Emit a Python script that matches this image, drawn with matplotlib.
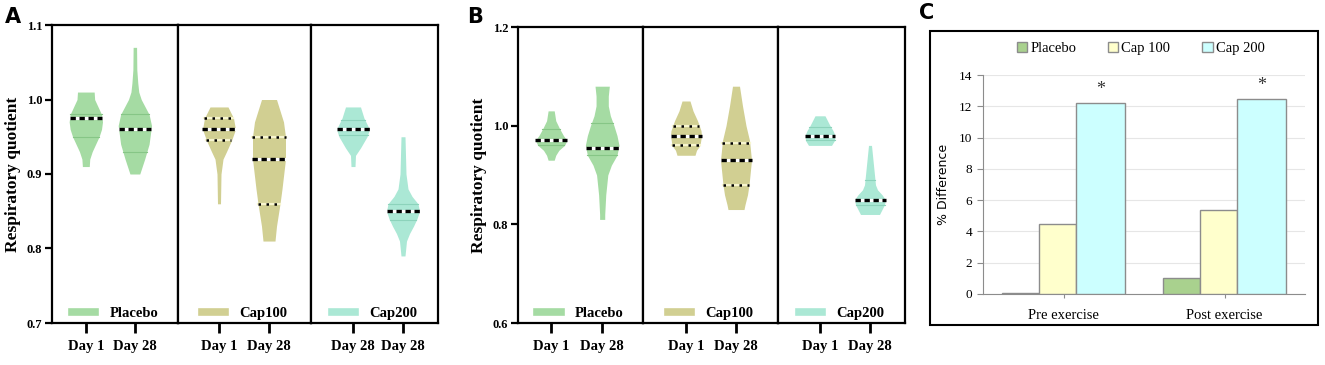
import numpy as np
import matplotlib.pyplot as plt
from matplotlib.lines import Line2D
from matplotlib.patches import Patch, Rectangle

# === Violin outlines: value levels (ascending) and half widths ===
# Panel A
a_pl1_y = [0.91, 0.92, 0.93, 0.94, 0.95, 0.96, 0.97, 0.98, 0.99, 1.00, 1.01]
a_pl1_w = [0.07, 0.08, 0.13, 0.20, 0.27, 0.32, 0.34, 0.32, 0.25, 0.18, 0.17]
a_pl28_y = [0.90, 0.92, 0.94, 0.965, 0.98, 1.00, 1.01, 1.022, 1.04, 1.07]
a_pl28_w = [0.10, 0.20, 0.29, 0.34, 0.29, 0.13, 0.08, 0.06, 0.04, 0.035]
a_c1_1_y = [0.86, 0.90, 0.92, 0.93, 0.945, 0.96, 0.975, 0.99]
a_c1_1_w = [0.03, 0.04, 0.08, 0.15, 0.25, 0.33, 0.29, 0.18]
a_c1_28_y = [0.81, 0.83, 0.86, 0.88, 0.92, 0.95, 0.97, 1.00]
a_c1_28_w = [0.12, 0.15, 0.22, 0.26, 0.33, 0.33, 0.29, 0.15]
a_c2_1_y = [0.91, 0.925, 0.935, 0.95, 0.96, 0.975, 0.99]
a_c2_1_w = [0.04, 0.05, 0.15, 0.28, 0.33, 0.22, 0.15]
a_c2_28_y = [0.79, 0.81, 0.82, 0.83, 0.84, 0.85, 0.86, 0.87, 0.88, 0.90, 0.95]
a_c2_28_w = [0.04, 0.07, 0.13, 0.21, 0.28, 0.33, 0.30, 0.18, 0.10, 0.06, 0.04]

# Panel B
b_pl1_y = [0.93, 0.94, 0.95, 0.96, 0.97, 0.98, 0.995, 1.01, 1.03]
b_pl1_w = [0.06, 0.09, 0.15, 0.26, 0.31, 0.24, 0.16, 0.09, 0.06]
b_pl28_y = [0.81, 0.82, 0.86, 0.90, 0.92, 0.94, 0.96, 0.98, 1.00, 1.02, 1.04, 1.06, 1.08]
b_pl28_w = [0.05, 0.05, 0.07, 0.11, 0.18, 0.29, 0.33, 0.29, 0.23, 0.16, 0.12, 0.12, 0.14]
b_c1_1_y = [0.94, 0.95, 0.96, 0.98, 0.99, 1.01, 1.03, 1.05]
b_c1_1_w = [0.18, 0.21, 0.28, 0.31, 0.30, 0.23, 0.14, 0.08]
b_c1_28_y = [0.83, 0.84, 0.86, 0.88, 0.93, 0.97, 1.00, 1.04, 1.08]
b_c1_28_w = [0.16, 0.18, 0.23, 0.26, 0.31, 0.27, 0.20, 0.13, 0.07]
b_c2_1_y = [0.96, 0.97, 0.98, 0.99, 1.00, 1.02]
b_c2_1_w = [0.23, 0.29, 0.30, 0.26, 0.20, 0.10]
b_c2_28_y = [0.82, 0.83, 0.84, 0.85, 0.86, 0.87, 0.88, 0.90, 0.92, 0.94, 0.96]
b_c2_28_w = [0.19, 0.24, 0.29, 0.31, 0.24, 0.15, 0.11, 0.09, 0.07, 0.05, 0.03]

# medians and quartiles, order: placebo d1, placebo d28, cap100 d1, cap100 d28, cap200 d1, cap200 d28
a_median = [0.975, 0.96, 0.96, 0.92, 0.96, 0.85]
a_q_low = [0.95, 0.93, 0.945, 0.86, 0.952, 0.838]
a_q_high = [0.98, 0.98, 0.975, 0.95, 0.973, 0.86]
b_median = [0.97, 0.955, 0.98, 0.93, 0.98, 0.85]
b_q_low = [0.96, 0.94, 0.96, 0.88, 0.97, 0.84]
b_q_high = [0.993, 1.005, 1.0, 0.965, 0.998, 0.89]

group_names = ["Placebo", "Cap100", "Cap200"]
a_ticklabels = [["Day 1", "Day 28"], ["Day 1", "Day 28"], ["Day 28", "Day 28"]]
b_ticklabels = [["Day 1", "Day 28"], ["Day 1", "Day 28"], ["Day 1", "Day 28"]]

# Panel C
c_categories = ["Pre exercise", "Post exercise"]
c_series = ["Placebo", "Cap 100", "Cap 200"]
c_placebo = [0.05, 1.0]
c_cap100 = [4.5, 5.4]
c_cap200 = [12.2, 12.45]

# === Styling ===
fill_colors = ["#a5dba3", "#d1cf92", "#abe8d5"]
quart_colors = ["#86c686", None, "#8cd3bb"]
serif = "Liberation Serif"
W, H = 1325, 365


def fig_rect(x0, y0, x1, y1):
    return [x0 / W, 1 - y1 / H, (x1 - x0) / W, (y1 - y0) / H]


def draw_violin(ax, pos, ys, ws, color, med, qlo, qhi, qcolor):
    ys = np.array(ys)
    ws = np.array(ws)
    ax.fill_betweenx(ys, pos - ws, pos + ws, color=color, lw=0)
    for q in (qlo, qhi):
        w = np.interp(q, ys, ws)
        if qcolor is None:
            ax.plot([pos - w, pos + w], [q, q], color="#f8f6d0", lw=1.6)
            ax.plot([pos - w, pos + w], [q, q], color="black", lw=1.8, ls=(0, (1, 2.2)))
        else:
            ax.plot([pos - w, pos + w], [q, q], color=qcolor, lw=0.8)
    w = np.interp(med, ys, ws)
    ax.plot([pos - w, pos + w], [med, med], color="white", lw=2.2)
    ax.plot([pos - w, pos + w], [med, med], color="black", lw=2.4, ls=(0, (1.6, 1.1)))


def violin_panel(fig, frames, xlims, profiles, medians, qlo, qhi, ticklabels, ylim, yticks, top):
    axes = []
    for g in range(3):
        ax = fig.add_axes(fig_rect(frames[g], top, frames[g + 1], 323))
        for k in range(2):
            i = 2 * g + k
            ys, ws = profiles[i]
            draw_violin(ax, k, ys, ws, fill_colors[g], medians[i], qlo[i], qhi[i], quart_colors[g])
        ax.set_xlim(*xlims[g])
        ax.set_ylim(*ylim)
        ax.set_xticks([0, 1])
        ax.set_xticklabels(ticklabels[g], fontfamily=serif, fontweight="bold", fontsize=10.5)
        ax.tick_params(axis="x", length=7, width=2, pad=5)
        for s in ax.spines.values():
            s.set_linewidth(1.6)
        if g == 0:
            ax.set_yticks(yticks)
            ax.set_yticklabels([f"{v:.1f}" for v in yticks], fontfamily=serif,
                               fontweight="bold", fontsize=9)
            ax.tick_params(axis="y", length=5, width=1.6, pad=2)
            ax.set_ylabel("Respiratory quotient", fontfamily=serif, fontweight="bold",
                          fontsize=12.5, labelpad=4)
        else:
            ax.set_yticks([])
        handle = Line2D([], [], color=fill_colors[g], lw=5.5)
        ax.legend([handle], [group_names[g]], loc="lower center",
                  bbox_to_anchor=(0.5, -0.035), frameon=False, handlelength=1.6,
                  handletextpad=1.0,
                  prop={"family": serif, "weight": "bold", "size": 10.5})
        axes.append(ax)
    return axes


fig = plt.figure(figsize=(W / 100, H / 100), dpi=100)

# === Panel A ===
a_profiles = [(a_pl1_y, a_pl1_w), (a_pl28_y, a_pl28_w), (a_c1_1_y, a_c1_1_w),
              (a_c1_28_y, a_c1_28_w), (a_c2_1_y, a_c2_1_w), (a_c2_28_y, a_c2_28_w)]
violin_panel(fig, [52, 178, 311, 438], [(-0.69, 1.88), (-0.82, 1.84), (-0.84, 1.7)],
             a_profiles, a_median, a_q_low, a_q_high, a_ticklabels,
             (0.7, 1.1), [0.7, 0.8, 0.9, 1.0, 1.1], 25)

# === Panel B ===
b_profiles = [(b_pl1_y, b_pl1_w), (b_pl28_y, b_pl28_w), (b_c1_1_y, b_c1_1_w),
              (b_c1_28_y, b_c1_28_w), (b_c2_1_y, b_c2_1_w), (b_c2_28_y, b_c2_28_w)]
violin_panel(fig, [518, 643, 778, 905], [(-0.65, 1.8), (-0.86, 1.84), (-0.84, 1.7)],
             b_profiles, b_median, b_q_low, b_q_high, b_ticklabels,
             (0.6, 1.2), [0.6, 0.8, 1.0, 1.2], 27)

# === Panel C ===
axc = fig.add_axes(fig_rect(983, 75, 1305, 294))
x = np.arange(len(c_categories))
bar_colors = ["#a9d18e", "#ffffcc", "#ccffff"]
widths = [0.228, 0.228, 0.304]
start = -0.38
for j, vals in enumerate([c_placebo, c_cap100, c_cap200]):
    offset = start + sum(widths[:j])
    axc.bar(x + offset, vals, width=widths[j], align="edge", color=bar_colors[j],
            edgecolor="#8c8c8c", lw=1, zorder=3)
for xi, v in zip(x, c_cap200):
    axc.text(xi + start + sum(widths[:2]) + widths[2] / 2, v + 0.35, "*",
             ha="center", va="bottom", fontsize=13, fontfamily=serif, color="#333333")
axc.set_xlim(-0.5, 1.5)
axc.set_ylim(0, 14)
axc.set_yticks(range(0, 15, 2))
axc.set_yticklabels([str(v) for v in range(0, 15, 2)], fontfamily=serif, fontsize=9.5)
axc.set_xticks(x)
axc.set_xticklabels(c_categories, fontfamily=serif, fontsize=10.5)
axc.tick_params(axis="y", length=4, color="#8c8c8c", pad=4)
axc.tick_params(axis="x", length=3, color="#8c8c8c", pad=8)
axc.grid(axis="y", color="#e6e6e6", lw=0.8, zorder=0)
axc.set_axisbelow(True)
for s in ["top", "right"]:
    axc.spines[s].set_visible(False)
for s in ["left", "bottom"]:
    axc.spines[s].set_color("#8c8c8c")
axc.set_ylabel("% Difference", fontfamily="DejaVu Sans", fontsize=9, labelpad=6)
handles = [Patch(facecolor=c, edgecolor="#8c8c8c") for c in bar_colors]
axc.legend(handles, c_series, loc="center", bbox_to_anchor=(0.49, 1.12), ncol=3,
           frameon=False, handlelength=0.7, handleheight=0.7, handletextpad=0.2,
           columnspacing=2.2, prop={"family": serif, "size": 10.5})
fig.add_artist(Rectangle((930 / W, 1 - 325 / H), (1318 - 930) / W, (325 - 31) / H,
                         transform=fig.transFigure, fill=False, lw=1.5, ec="black"))

# panel letters
fig.text(5 / W, 1 - 17 / H, "A", fontsize=15, fontweight="bold", va="center")
fig.text(467 / W, 1 - 17 / H, "B", fontsize=15, fontweight="bold", va="center")
fig.text(919 / W, 1 - 13 / H, "C", fontsize=15, fontweight="bold", va="center")

fig.savefig("out.png", dpi=100)
